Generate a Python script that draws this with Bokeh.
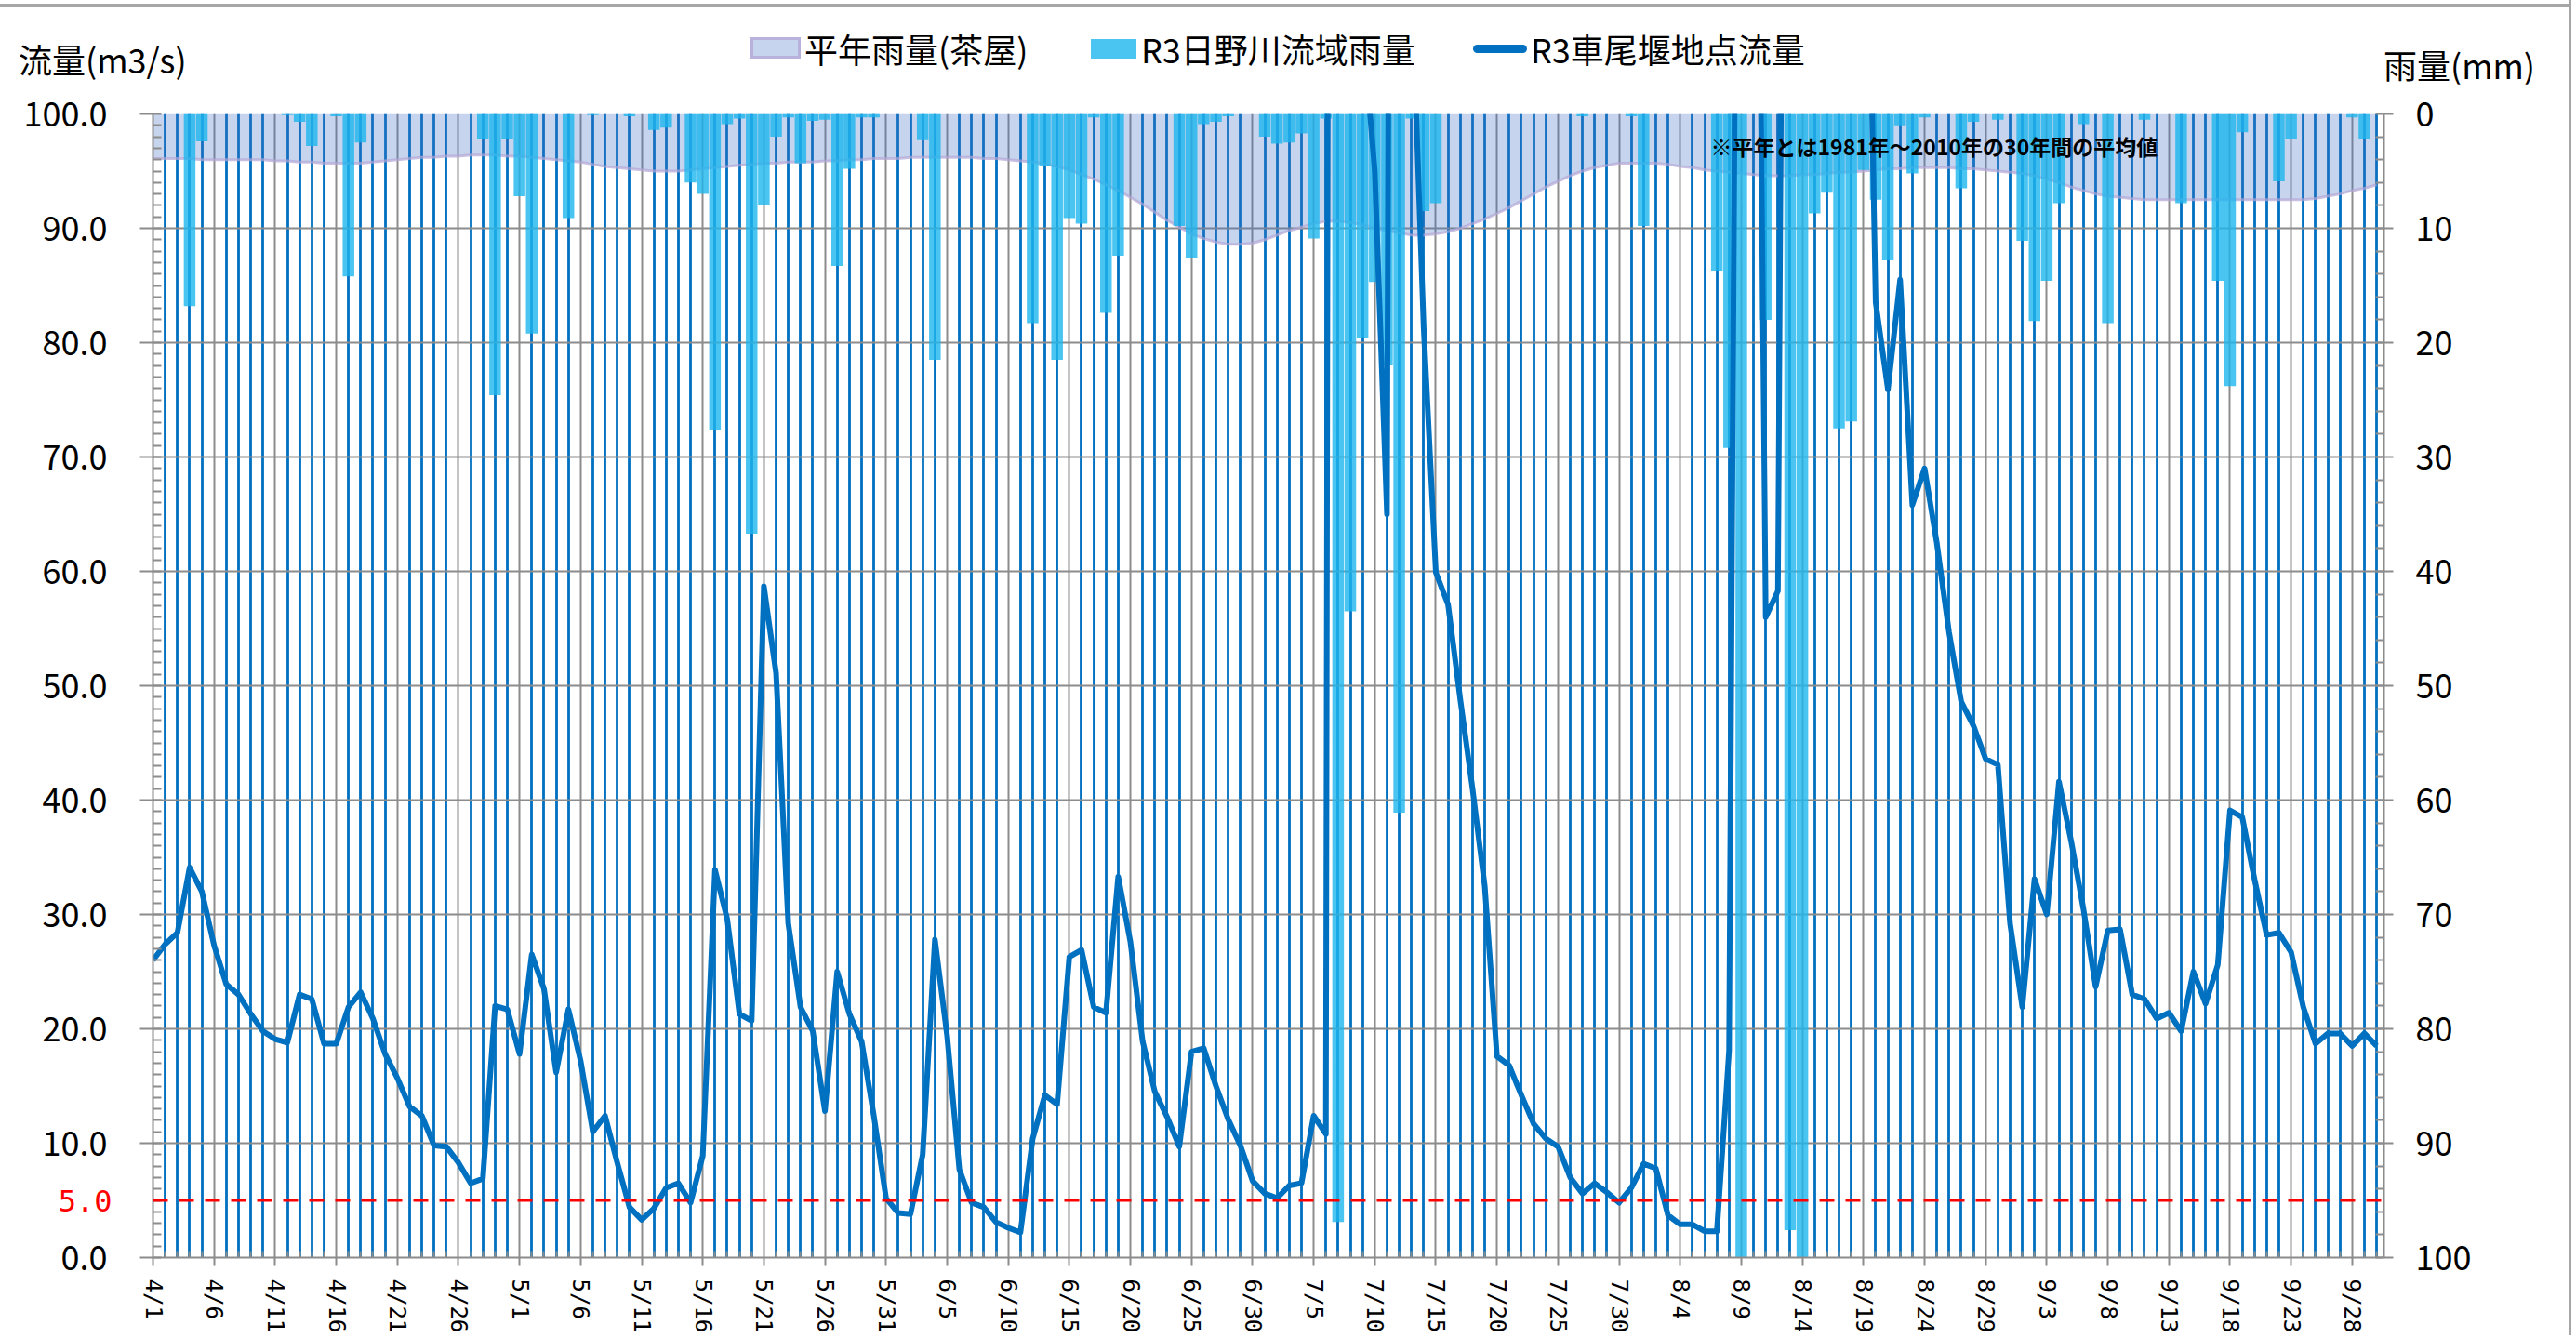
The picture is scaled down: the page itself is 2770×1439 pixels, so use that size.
from bokeh.plotting import figure
from bokeh.layouts import column
from bokeh.models import (Range1d, LinearAxis, FixedTicker, Span, Label, Div,
                          NumeralTickFormatter)
from bokeh.embed import file_html
from bokeh.resources import INLINE

# ---------------- data (day index 0 = 4/1 ... 182 = 9/30) ----------------
DAYS = list(range(183))

FLOW = [26.0, 27.4, 28.4, 34.1, 32.0, 27.3, 23.9, 23.0, 21.3, 19.8,
        19.1, 18.8, 23.0, 22.6, 18.7, 18.7, 21.9, 23.2, 20.9, 17.8,
        15.7, 13.2, 12.4, 9.8, 9.7, 8.3, 6.5, 6.9, 22.0, 21.7,
        17.8, 26.5, 23.5, 16.2, 21.7, 17.2, 11.0, 12.4, 8.3, 4.4,
        3.3, 4.3, 6.1, 6.5, 4.8, 8.9, 33.9, 29.6, 21.3, 20.7,
        58.7, 51.1, 29.2, 21.9, 19.8, 12.8, 25.0, 21.3, 18.9, 12.4,
        5.2, 3.9, 3.8, 9.0, 27.8, 19.4, 7.7, 4.8, 4.4, 3.1,
        2.6, 2.2, 10.4, 14.2, 13.4, 26.3, 26.9, 21.9, 21.4, 33.3,
        27.6, 18.9, 14.5, 12.3, 9.7, 18.0, 18.3, 15.0, 12.1, 9.8,
        6.7, 5.6, 5.2, 6.3, 6.5, 12.4, 10.8, 600, 250, 108,
        95, 65, 400, 112, 81.4, 59.9, 57.1, 48.8, 41.0, 32.5,
        17.6, 16.8, 14.2, 11.7, 10.4, 9.7, 7.0, 5.6, 6.5, 5.7,
        4.8, 6.1, 8.2, 7.8, 3.7, 2.9, 2.9, 2.3, 2.3, 18.1,
        200, 170, 56.0, 58.3, 230, 300, 280, 250, 220, 180,
        140, 83.5, 75.9, 85.5, 65.8, 69.0, 62.5, 54.7, 48.6, 46.5,
        43.6, 43.1, 29.2, 21.9, 33.1, 30.0, 41.6, 36.4, 30.5, 23.7,
        28.6, 28.7, 23.0, 22.6, 20.9, 21.4, 19.8, 25.0, 22.2, 25.6,
        39.1, 38.5, 33.1, 28.2, 28.4, 26.7, 21.9, 18.7, 19.6, 19.6,
        18.5, 19.6, 18.5]

RAIN = [0, 0, 0, 16.8, 2.4, 0, 0, 0, 0, 0,
        0, 0.1, 0.7, 2.8, 0, 0.2, 14.2, 2.5, 0, 0,
        0, 0, 0, 0, 0, 0, 0, 2.2, 24.6, 2.2,
        7.2, 19.2, 0, 0, 9.1, 0, 0.1, 0, 0, 0.2,
        0, 1.4, 1.2, 0, 6.0, 7.0, 27.6, 0.9, 0.4, 36.7,
        8.0, 2.0, 0.3, 4.3, 0.6, 0.5, 13.3, 4.8, 0.3, 0.3,
        0, 0, 0, 2.3, 21.5, 0, 0, 0, 0, 0,
        0, 0, 18.3, 4.6, 21.5, 9.1, 9.6, 0.3, 17.4, 12.4,
        0, 0, 0, 0, 9.8, 12.6, 0.9, 0.7, 0.2, 0,
        0, 2.0, 2.6, 2.5, 1.7, 10.9, 0.4, 96.9, 43.5, 19.6,
        14.7, 22.0, 61.1, 0.4, 8.5, 7.8, 0, 0, 0, 0,
        0, 0, 0, 0, 0, 0, 0, 0.2, 0, 0,
        0, 0.2, 9.8, 0, 0, 0, 0, 0, 13.7, 29.2,
        100, 0, 18.0, 0, 97.6, 100, 8.7, 6.9, 27.5, 26.9,
        4.9, 7.5, 12.8, 1.0, 5.2, 0.3, 0, 0, 6.5, 0.7,
        0, 0.5, 0, 11.1, 18.1, 14.6, 7.8, 0, 0.9, 0,
        18.3, 0, 0, 0.5, 0, 0, 7.8, 0, 0, 14.6,
        23.8, 1.6, 0, 0, 5.9, 2.2, 0, 0, 0, 0,
        0.3, 2.2, 0]

AVG = [3.9, 3.9, 3.9, 3.9, 4.0, 4.0, 4.0, 4.0, 4.0, 4.0,
       4.1, 4.1, 4.2, 4.2, 4.3, 4.3, 4.3, 4.3, 4.2, 4.1,
       4.0, 3.9, 3.8, 3.8, 3.7, 3.7, 3.6, 3.6, 3.6, 3.7,
       3.7, 3.8, 3.9, 4.0, 4.1, 4.2, 4.4, 4.6, 4.7, 4.8,
       4.9, 5.0, 5.0, 5.0, 4.9, 4.8, 4.7, 4.6, 4.5, 4.4,
       4.3, 4.3, 4.2, 4.2, 4.2, 4.1, 4.1, 4.0, 4.0, 3.9,
       3.9, 3.9, 3.8, 3.8, 3.8, 3.8, 3.8, 3.8, 3.9, 3.9,
       4.0, 4.1, 4.2, 4.4, 4.6, 4.9, 5.3, 5.7, 6.2, 6.7,
       7.3, 7.9, 8.6, 9.3, 9.9, 10.5, 10.9, 11.2, 11.4, 11.4,
       11.3, 11.0, 10.6, 10.2, 9.9, 9.6, 9.4, 9.4, 9.5, 9.7,
       10.0, 10.2, 10.4, 10.6, 10.6, 10.5, 10.3, 10.0, 9.6, 9.2,
       8.7, 8.2, 7.6, 7.0, 6.4, 5.9, 5.4, 5.0, 4.7, 4.5,
       4.3, 4.3, 4.3, 4.3, 4.4, 4.6, 4.7, 4.9, 5.0, 5.1,
       5.2, 5.3, 5.4, 5.4, 5.4, 5.3, 5.3, 5.2, 5.1, 5.1,
       5.0, 4.9, 4.8, 4.8, 4.7, 4.7, 4.7, 4.7, 4.8, 4.8,
       4.9, 5.0, 5.1, 5.2, 5.4, 5.7, 6.0, 6.4, 6.7, 7.0,
       7.2, 7.3, 7.4, 7.5, 7.5, 7.5, 7.5, 7.5, 7.5, 7.5,
       7.5, 7.5, 7.5, 7.5, 7.5, 7.5, 7.5, 7.4, 7.2, 7.0,
       6.7, 6.5, 6.2]

TICK_DAYS = list(range(0, 181, 5))
TICK_LABELS = ["4/1", "4/6", "4/11", "4/16", "4/21", "4/26", "5/1", "5/6", "5/11",
               "5/16", "5/21", "5/26", "5/31", "6/5", "6/10", "6/15", "6/20", "6/25",
               "6/30", "7/5", "7/10", "7/15", "7/20", "7/25", "7/30", "8/4", "8/9",
               "8/14", "8/19", "8/24", "8/29", "9/3", "9/8", "9/13", "9/18", "9/23",
               "9/28"]
MINOR_DAYS = [d for d in DAYS if d % 5 != 0]
FLOW_TICKS = list(range(0, 101, 10))
FLOW_MINOR = list(range(0, 101, 1))
RAIN_TICKS = list(range(0, 101, 10))
RAIN_MINOR = list(range(0, 101, 2))
THRESHOLD = 5.0

NAME_AVG = "平年雨量(茶屋)"
NAME_RAIN = "R3日野川流域雨量"
NAME_FLOW = "R3車尾堰地点流量"
LEFT_TITLE = "流量(m3/s)"
RIGHT_TITLE = "雨量(mm)"
NOTE = "※平年とは1981年～2010年の30年間の平均値"

# ---------------- layout / style ----------------
JP = "Noto Sans CJK JP"
GRAY = "#8C8C8C"
BLUE = "#0070C0"
AREA_FILL = "#4472C4"
AREA_LINE = "#B4A7D6"
BAR_FILL = "#1DB5EE"

TOTAL_W = 2762
HEAD_H = 90
MAIN_H = 1346
PAD_L, PAD_R, PAD_T, PAD_B = 164, 199, 32, 81

# ---------------- header (titles + legend) ----------------
def span(left, top, text, size=36):
    return ('<span style="position:absolute;left:%dpx;top:%dpx;font-size:%dpx;'
            'line-height:%dpx;white-space:nowrap;color:#000;">%s</span>'
            % (left, top, size, size, text))


def box(left, top, w, h, style):
    return ('<div style="position:absolute;left:%dpx;top:%dpx;width:%dpx;'
            'height:%dpx;%s"></div>' % (left, top, w, h, style))


head_html = (
    '<div style="position:relative;width:%dpx;height:%dpx;'
    'font-family:\'%s\';background:#fff;">' % (TOTAL_W, HEAD_H, JP)
    + box(0, 4, TOTAL_W, 3, "background:#A6A6A6;")
    + span(20, 45, LEFT_TITLE)
    + span(2563, 51, RIGHT_TITLE)
    + box(807, 40, 54, 23, "box-sizing:border-box;background:rgba(68,114,196,0.3);"
          "border:3px solid rgba(180,167,214,0.8);")
    + span(865, 34, NAME_AVG)
    + box(1173, 42, 49, 21, "background:rgba(29,181,238,0.8);")
    + span(1227, 34, NAME_RAIN)
    + box(1584, 48, 58, 9, "background:%s;border-radius:5px;" % BLUE)
    + span(1646, 34, NAME_FLOW)
    + '</div>')
head = Div(text=head_html, width=TOTAL_W, height=HEAD_H, margin=(0, 0, 0, 0))

# ---------------- main chart ----------------
p = figure(width=TOTAL_W, height=MAIN_H, output_backend="svg", toolbar_location=None,
           x_range=Range1d(0, 182.6), y_range=Range1d(0, 100),
           min_border_left=PAD_L, min_border_right=PAD_R, min_border_top=PAD_T,
           min_border_bottom=PAD_B, margin=(0, 0, 0, 0))
p.extra_y_ranges = {"rain": Range1d(100, 0)}
p.outline_line_color = None
p.background_fill_color = "white"
p.border_fill_color = "white"

xa = p.xaxis[0]
xa.ticker = FixedTicker(ticks=TICK_DAYS, minor_ticks=MINOR_DAYS)
xa.major_label_overrides = {d: s for d, s in zip(TICK_DAYS, TICK_LABELS)}
xa.major_label_orientation = "vertical"
xa.major_label_text_font = "DejaVu Sans Mono"
xa.major_label_text_font_size = "24px"
xa.major_label_text_color = "black"
xa.major_label_standoff = 14
xa.axis_line_color = GRAY
xa.axis_line_width = 2
xa.major_tick_line_color = GRAY
xa.major_tick_line_width = 2
xa.major_tick_out = 9
xa.major_tick_in = 0
xa.minor_tick_line_color = GRAY
xa.minor_tick_line_width = 2
xa.minor_tick_in = 7
xa.minor_tick_out = 0

ya = p.yaxis[0]
ya.ticker = FixedTicker(ticks=FLOW_TICKS, minor_ticks=FLOW_MINOR)
ya.formatter = NumeralTickFormatter(format="0.0")
ya.major_label_text_font = JP
ya.major_label_text_font_size = "36px"
ya.major_label_text_color = "black"
ya.major_label_standoff = 35
ya.axis_line_color = GRAY
ya.axis_line_width = 2
ya.major_tick_line_color = GRAY
ya.major_tick_line_width = 2
ya.major_tick_out = 14
ya.major_tick_in = 0
ya.minor_tick_line_color = GRAY
ya.minor_tick_line_width = 2
ya.minor_tick_in = 9
ya.minor_tick_out = 0

# red threshold label, as an outer left axis whose label is pulled back inward
ta = LinearAxis(ticker=FixedTicker(ticks=[THRESHOLD], minor_ticks=[]),
                formatter=NumeralTickFormatter(format="0.0"))
ta.axis_line_color = None
ta.major_tick_line_color = None
ta.minor_tick_line_color = None
ta.major_tick_out = 0
ta.major_tick_in = 0
ta.major_label_text_font = "DejaVu Sans Mono"
ta.major_label_text_font_size = "32px"
ta.major_label_text_color = "#FF0000"
ta.major_label_standoff = -98
p.add_layout(ta, "left")

ra = LinearAxis(y_range_name="rain",
                ticker=FixedTicker(ticks=RAIN_TICKS, minor_ticks=RAIN_MINOR))
ra.major_label_text_font = JP
ra.major_label_text_font_size = "36px"
ra.major_label_text_color = "black"
ra.major_label_standoff = 24
ra.axis_line_color = GRAY
ra.axis_line_width = 2
ra.major_tick_line_color = GRAY
ra.major_tick_line_width = 2
ra.major_tick_out = 10
ra.major_tick_in = 0
ra.minor_tick_line_color = GRAY
ra.minor_tick_line_width = 2
ra.minor_tick_in = 9
ra.minor_tick_out = 0
p.add_layout(ra, "right")

p.xgrid.grid_line_color = GRAY
p.xgrid.grid_line_width = 2
p.xgrid.minor_grid_line_color = BLUE
p.xgrid.minor_grid_line_width = 2.8
p.ygrid.ticker = FixedTicker(ticks=FLOW_TICKS)
p.ygrid.grid_line_color = GRAY
p.ygrid.grid_line_width = 2

p.varea(x=DAYS, y1=0, y2=AVG, y_range_name="rain",
        fill_color=AREA_FILL, fill_alpha=0.3)
p.line(DAYS, AVG, y_range_name="rain", line_color=AREA_LINE,
       line_width=3, line_alpha=0.7)
p.vbar(x=DAYS, top=0, bottom=RAIN, width=0.95, y_range_name="rain",
       fill_color=BAR_FILL, fill_alpha=0.8, line_color=None)
p.line(DAYS, FLOW, line_color=BLUE, line_width=6, line_join="round")

p.add_layout(Span(location=THRESHOLD, dimension="width", line_color="#FF0000",
                  line_dash="16 12", line_width=3))

p.add_layout(Label(x=1675, y=1196, x_units="screen", y_units="screen",
                   text=NOTE, text_font=JP, text_font_size="23px",
                   text_font_style="bold", text_baseline="middle",
                   text_align="left", text_color="black"))

layout = column(head, p, spacing=0,
                styles={"box-shadow": "3px 0 0 0 #A6A6A6"})

open("out.html", "w").write(file_html(layout, INLINE))
